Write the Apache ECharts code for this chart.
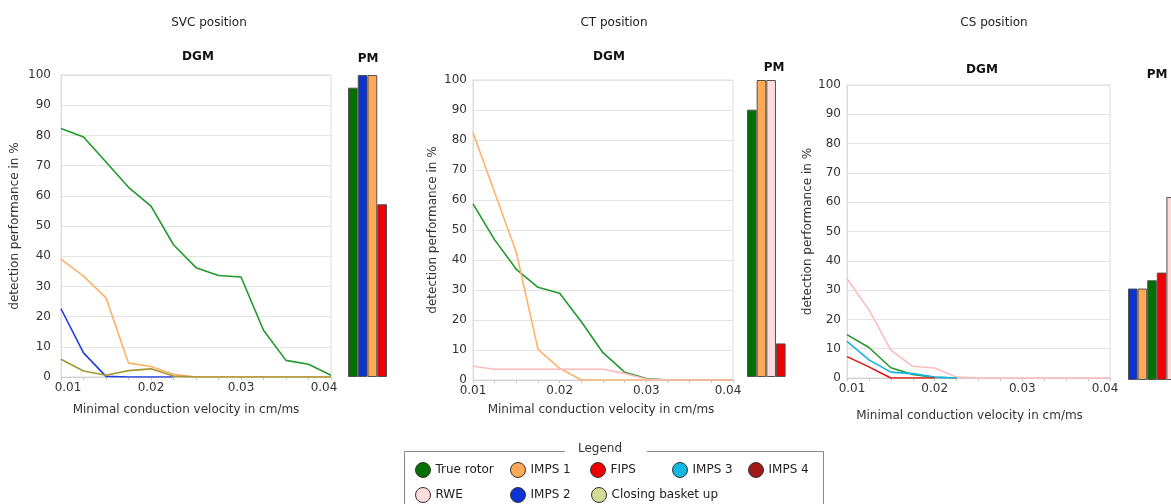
<!DOCTYPE html>
<html>
<head>
<meta charset="utf-8">
<script src="https://cdn.jsdelivr.net/npm/echarts@6/dist/echarts.min.js"></script>
<style>
  html, body { margin: 0; padding: 0; background: #fff; }
  #chart { width: 1171px; height: 504px; }
</style>
</head>
<body>
<div id="chart"></div>
<script>
// minimal conduction velocity (cm/ms), shared by all DGM curves
const velocities = [0.01, 0.0125, 0.015, 0.0175, 0.02, 0.0225, 0.025, 0.0275, 0.03, 0.0325, 0.035, 0.0375, 0.04];

// SVC position - DGM
const svcTrueRotor = [82.3, 79.5, 71.2, 62.8, 56.6, 43.8, 36.2, 33.6, 33.1, 15.5, 5.5, 4.2, 0.6];
const svcImps2 = [22.6, 8, 0.2, 0, 0, 0];
const svcImps1 = [39, 33.4, 26.2, 4.6, 3.5, 0.9, 0, 0, 0, 0, 0, 0, 0];
const svcClosing = [5.9, 2, 0.6, 2.1, 2.7, 0.3, 0, 0, 0, 0, 0, 0, 0];

// CT position - DGM
const ctTrueRotor = [58.7, 46.7, 36.9, 30.9, 28.9, 19.4, 9.1, 2.6, 0.5, 0, 0, 0, 0];
const ctImps1 = [82.4, 62.5, 42.5, 10.2, 3.9, 0, 0, 0, 0, 0, 0, 0, 0];
const ctRwe = [4.6, 3.6, 3.6, 3.6, 3.6, 3.6, 3.6, 2.2, 0.3, 0, 0, 0, 0];

// CS position - DGM
const csRwe = [33.9, 23.3, 9.5, 4, 3.4, 0.3, 0, 0, 0, 0, 0, 0, 0];
const csTrueRotor = [14.8, 10.4, 3.5, 1.2, 0.2, 0];
const csImps3 = [12.5, 6.2, 2, 1.5, 0.3, 0];
const csFips = [7.3, 3.8, 0, 0, 0];

// PM bars
const svcPmNames = ['True rotor', 'IMPS 2', 'IMPS 1', 'FIPS'];
const svcPmValues = [95.8, 100, 100, 57.2];
const ctPmNames = ['True rotor', 'IMPS 1', 'RWE', 'FIPS'];
const ctPmValues = [90, 100, 100, 11.3];
const csPmNames = ['IMPS 2', 'IMPS 1', 'True rotor', 'FIPS', 'RWE'];
const csPmValues = [31, 31, 33.8, 36.4, 62];

const legendNames = ['True rotor', 'IMPS 1', 'FIPS', 'IMPS 3', 'IMPS 4', 'RWE', 'IMPS 2', 'Closing basket up'];

// colours
const lineColors = {
  'True rotor': '#21992b',
  'IMPS 1': '#ffb26b',
  'IMPS 2': '#1d3fe6',
  'IMPS 3': '#17b3e0',
  'FIPS': '#dd1515',
  'RWE': '#ffbcbc',
  'Closing basket up': '#a4982e'
};
const markColors = {
  'True rotor': '#047004',
  'IMPS 1': '#ffa855',
  'IMPS 2': '#0a33cf',
  'IMPS 3': '#10b9e2',
  'IMPS 4': '#a01a1a',
  'FIPS': '#ee0000',
  'RWE': '#ffdcdc',
  'Closing basket up': '#d3db98'
};

const FONT = 'DejaVu Sans';

// layout of the three panels
const panels = [
  {
    title: 'SVC position', titleX: 204, dgmX: 193, dgmY: 46, pmX: 363, pmY: 48,
    dgm: { left: 61, top: 75, width: 270, height: 302 },
    pm: { left: 348, top: 75, width: 39, height: 302 },
    yNameGap: 40, yLabelMargin: 10, xNameGap: 27, xNameShift: 20, edge: [14, 14],
    lines: [['True rotor', svcTrueRotor], ['IMPS 2', svcImps2], ['IMPS 1', svcImps1], ['Closing basket up', svcClosing]],
    pmNames: svcPmNames, pmValues: svcPmValues
  },
  {
    title: 'CT position', titleX: 609, dgmX: 604, dgmY: 46, pmX: 769, pmY: 57,
    dgm: { left: 473, top: 80, width: 260, height: 300 },
    pm: { left: 747, top: 80, width: 38.6, height: 297 },
    yNameGap: 34, yLabelMargin: 6, xNameGap: 24, xNameShift: 4, edge: [0, 10],
    lines: [['True rotor', ctTrueRotor], ['IMPS 1', ctImps1], ['RWE', ctRwe]],
    pmNames: ctPmNames, pmValues: ctPmValues
  },
  {
    title: 'CS position', titleX: 989, dgmX: 977, dgmY: 59, pmX: 1152, pmY: 64,
    dgm: { left: 847, top: 85, width: 263, height: 293 },
    pm: { left: 1128, top: 85, width: 48, height: 295 },
    yNameGap: 33, yLabelMargin: 6, xNameGap: 32, xNameShift: 18, edge: [10, 10],
    lines: [['RWE', csRwe], ['True rotor', csTrueRotor], ['IMPS 3', csImps3], ['FIPS', csFips]],
    pmNames: csPmNames, pmValues: csPmValues
  }
];

// legend slots (icon left, row top)
const legendSlots = [[415, 462], [510, 462], [590, 462], [672, 462], [748, 462], [415, 487], [510, 487], [591, 487]];

const grid = [], xAxis = [], yAxis = [], series = [], title = [];

panels.forEach((p, i) => {
  const gDgm = grid.length;
  grid.push(Object.assign({ show: true, borderColor: '#dcdcdc', borderWidth: 1, backgroundColor: '#fff', outerBoundsMode: 'none' }, p.dgm));
  const gPm = grid.length;
  grid.push(Object.assign({ outerBoundsMode: 'none' }, p.pm));

  title.push({ text: p.title, left: p.titleX, top: 12, textAlign: 'center',
    textStyle: { fontFamily: FONT, fontSize: 12, fontWeight: 'normal', color: '#222' } });
  title.push({ text: 'DGM', left: p.dgmX, top: p.dgmY, textAlign: 'center',
    textStyle: { fontFamily: FONT, fontSize: 12, fontWeight: 'bold', color: '#111' } });
  title.push({ text: 'PM', left: p.pmX, top: p.pmY, textAlign: 'center',
    textStyle: { fontFamily: FONT, fontSize: 12, fontWeight: 'bold', color: '#111' } });

  xAxis.push({
    type: 'value', gridIndex: gDgm, min: 0.01, max: 0.04, interval: 0.01,
    name: 'Minimal conduction velocity in cm/ms', nameLocation: 'middle', nameGap: p.xNameGap,
    nameTextStyle: { fontFamily: FONT, fontSize: 12, color: '#333', padding: [0, p.xNameShift, 0, 0] },
    axisLine: { lineStyle: { color: '#cfcfcf' } },
    axisTick: { show: true, length: 3, lineStyle: { color: '#c8c8c8' } },
    minorTick: { show: true, splitNumber: 4, length: 3, lineStyle: { color: '#c8c8c8' } },
    splitLine: { show: false },
    axisLabel: {
      margin: 5, fontFamily: FONT, fontSize: 12, color: '#333',
      formatter: v => {
        const s = v.toFixed(2);
        if (Math.abs(v - 0.01) < 1e-9) return '{l|' + s + '}';
        if (Math.abs(v - 0.04) < 1e-9) return '{r|' + s + '}';
        return s;
      },
      rich: {
        l: { fontFamily: FONT, fontSize: 12, color: '#333', padding: [0, 0, 0, p.edge[0]] },
        r: { fontFamily: FONT, fontSize: 12, color: '#333', padding: [0, p.edge[1], 0, 0] }
      }
    }
  });
  yAxis.push({
    type: 'value', gridIndex: gDgm, min: 0, max: 100, interval: 10,
    name: 'detection performance in %', nameLocation: 'middle', nameGap: p.yNameGap,
    nameTextStyle: { fontFamily: FONT, fontSize: 12, color: '#333' },
    axisLine: { show: true, lineStyle: { color: '#dcdcdc' } },
    axisTick: { show: false },
    splitLine: { lineStyle: { color: '#e3e3e3' } },
    axisLabel: { margin: p.yLabelMargin, fontFamily: FONT, fontSize: 12, color: '#333' }
  });

  const xPm = xAxis.length;
  xAxis.push({ type: 'category', gridIndex: gPm, data: p.pmNames, show: false });
  yAxis.push({ type: 'value', gridIndex: gPm, min: 0, max: 100, show: false });

  const axDgm = xPm - 1;
  p.lines.forEach(([name, vals]) => {
    series.push({
      type: 'line', name, xAxisIndex: axDgm, yAxisIndex: axDgm,
      data: vals.map((v, k) => [velocities[k], v]),
      symbol: 'none', lineStyle: { width: 1.6, color: lineColors[name] },
      itemStyle: { color: lineColors[name] }, animation: false, silent: true
    });
  });

  series.push({
    type: 'bar', name: 'PM ' + p.title, xAxisIndex: xPm, yAxisIndex: xPm,
    barCategoryGap: 0, barWidth: '100%',
    data: p.pmValues.map((v, k) => ({
      value: v,
      itemStyle: { color: markColors[p.pmNames[k]], borderColor: '#505050', borderWidth: 1 }
    })),
    animation: false, silent: true
  });
});

// IMPS 4 has no drawn data but is listed in the key
series.push({ type: 'line', name: 'IMPS 4', xAxisIndex: 0, yAxisIndex: 0, data: [], symbol: 'none' });

const legend = legendNames.map((name, k) => ({
  data: [{ name, icon: 'circle', itemStyle: { color: markColors[name], borderColor: '#333', borderWidth: 1 } }],
  left: legendSlots[k][0], top: legendSlots[k][1], padding: 0,
  itemWidth: 15, itemHeight: 15, itemGap: 5, selectedMode: false,
  textStyle: { fontFamily: FONT, fontSize: 12, color: '#222' }
}));

const chart = echarts.init(document.getElementById('chart'));
chart.setOption({
  animation: false,
  backgroundColor: '#fff',
  title, grid, xAxis, yAxis, series, legend,
  graphic: [
    { type: 'rect', left: 402, top: 449, shape: { width: 419, height: 70 },
      style: { fill: 'none', stroke: '#8a8a8a', lineWidth: 1 }, silent: true },
    { type: 'text', left: 565, top: 443,
      style: { text: 'Legend', fill: '#333', font: '12px "DejaVu Sans"', backgroundColor: '#fff', padding: [0, 25, 0, 13] },
      silent: true }
  ]
});
</script>
</body>
</html>
